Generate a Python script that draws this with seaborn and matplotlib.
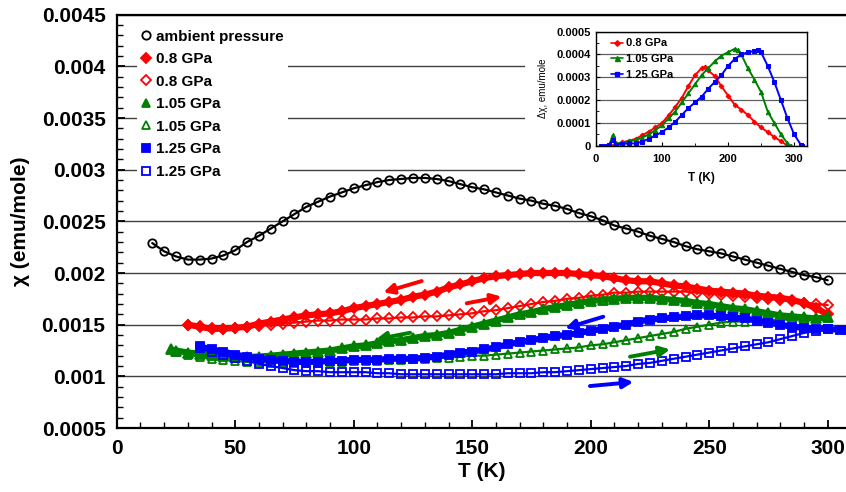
import numpy as np
import pandas as pd
import matplotlib
matplotlib.use("Agg")
import matplotlib.pyplot as plt
from matplotlib.lines import Line2D
from matplotlib.patches import Rectangle
from matplotlib.ticker import MultipleLocator, FuncFormatter
import seaborn as sns

# ---------------- data ----------------
T_amb = [15, 20, 25, 30, 35, 40, 45, 50, 55, 60, 65, 70, 75, 80, 85, 90, 95, 100, 105, 110,
         115, 120, 125, 130, 135, 140, 145, 150, 155, 160, 165, 170, 175, 180, 185, 190, 195,
         200, 205, 210, 215, 220, 225, 230, 235, 240, 245, 250, 255, 260, 265, 270, 275, 280,
         285, 290, 295, 300]
chi_amb = [0.00229, 0.00221, 0.00216, 0.00213, 0.00213, 0.00214, 0.00217, 0.00222, 0.00230,
           0.00236, 0.00243, 0.00250, 0.00257, 0.00264, 0.00269, 0.00274, 0.00278, 0.00282,
           0.00285, 0.00288, 0.00290, 0.00291, 0.00292, 0.00292, 0.00291, 0.00289, 0.00286,
           0.00283, 0.00281, 0.00278, 0.00275, 0.00272, 0.00270, 0.00267, 0.00265, 0.00262,
           0.00258, 0.00255, 0.00251, 0.00246, 0.00243, 0.00240, 0.00236, 0.00233, 0.00230,
           0.00226, 0.00223, 0.00221, 0.00219, 0.00216, 0.00213, 0.00210, 0.00207, 0.00204,
           0.00201, 0.00198, 0.00196, 0.00193]

T_08 = [30, 35, 40, 45, 50, 55, 60, 65, 70, 75, 80, 85, 90, 95, 100, 105, 110, 115, 120, 125,
        130, 135, 140, 145, 150, 155, 160, 165, 170, 175, 180, 185, 190, 195, 200, 205, 210,
        215, 220, 225, 230, 235, 240, 245, 250, 255, 260, 265, 270, 275, 280, 285, 290, 295, 300]
chi_08_cool = [0.00150, 0.00148, 0.00146, 0.00146, 0.00147, 0.00148, 0.00151, 0.00153, 0.00155,
               0.00157, 0.00159, 0.00160, 0.00161, 0.00163, 0.00166, 0.00168, 0.00170, 0.00172,
               0.00174, 0.00177, 0.00179, 0.00182, 0.00186, 0.00189, 0.00192, 0.00195, 0.00197,
               0.00198, 0.00199, 0.00200, 0.00200, 0.00200, 0.00200, 0.00199, 0.00198, 0.00197,
               0.00195, 0.00193, 0.00192, 0.00192, 0.00190, 0.00188, 0.00187, 0.00185, 0.00183,
               0.00182, 0.00181, 0.00180, 0.00178, 0.00177, 0.00176, 0.00174, 0.00171, 0.00166,
               0.00160]
chi_08_warm = [0.00150, 0.00149, 0.00147, 0.00146, 0.00147, 0.00148, 0.00149, 0.00150, 0.00151,
               0.00152, 0.00153, 0.00154, 0.00154, 0.00155, 0.00155, 0.00155, 0.00156, 0.00156,
               0.00157, 0.00157, 0.00158, 0.00158, 0.00159, 0.00160, 0.00161, 0.00163, 0.00164,
               0.00166, 0.00168, 0.00170, 0.00172, 0.00173, 0.00175, 0.00176, 0.00178, 0.00179,
               0.00181, 0.00181, 0.00182, 0.00182, 0.00182, 0.00182, 0.00182, 0.00181, 0.00180,
               0.00179, 0.00178, 0.00177, 0.00176, 0.00175, 0.00174, 0.00173, 0.00171, 0.00170,
               0.00169]

T_105 = [23, 25, 30, 35, 40, 45, 50, 55, 60, 65, 70, 75, 80, 85, 90, 95, 100, 105, 110, 115,
         120, 125, 130, 135, 140, 145, 150, 155, 160, 165, 170, 175, 180, 185, 190, 195, 200,
         205, 210, 215, 220, 225, 230, 235, 240, 245, 250, 255, 260, 265, 270, 275, 280, 285,
         290, 295, 300]
chi_105_cool = [0.00126, 0.00125, 0.00123, 0.00122, 0.00121, 0.00120, 0.00119, 0.00119, 0.00119,
                0.00120, 0.00121, 0.00122, 0.00123, 0.00124, 0.00125, 0.00127, 0.00129, 0.00130,
                0.00132, 0.00134, 0.00135, 0.00137, 0.00139, 0.00140, 0.00142, 0.00145, 0.00148,
                0.00151, 0.00154, 0.00157, 0.00160, 0.00162, 0.00165, 0.00167, 0.00169, 0.00171,
                0.00173, 0.00174, 0.00175, 0.00176, 0.00176, 0.00176, 0.00175, 0.00174, 0.00173,
                0.00171, 0.00170, 0.00168, 0.00166, 0.00165, 0.00163, 0.00161, 0.00159, 0.00158,
                0.00157, 0.00156, 0.00157]
chi_105_warm = [0.00126, 0.00124, 0.00121, 0.00119, 0.00117, 0.00116, 0.00115, 0.00114, 0.00114,
                0.00113, 0.00113, 0.00113, 0.00113, 0.00113, 0.00114, 0.00114, 0.00115, 0.00115,
                0.00115, 0.00116, 0.00116, 0.00117, 0.00117, 0.00118, 0.00118, 0.00119, 0.00120,
                0.00120, 0.00121, 0.00122, 0.00123, 0.00124, 0.00125, 0.00126, 0.00127, 0.00128,
                0.00130, 0.00131, 0.00133, 0.00135, 0.00137, 0.00139, 0.00141, 0.00143, 0.00146,
                0.00148, 0.00150, 0.00152, 0.00153, 0.00153, 0.00154, 0.00154, 0.00155, 0.00155,
                0.00155, 0.00156, 0.00156]

T_125_cool = [35, 40, 45, 50, 55, 60, 65, 70, 75, 80, 85, 90, 95, 100, 105, 110, 115, 120, 125,
              130, 135, 140, 145, 150, 155, 160, 165, 170, 175, 180, 185, 190, 195, 200, 205,
              210, 215, 220, 225, 230, 235, 240, 245, 250, 255, 260, 265, 270, 275, 280, 285,
              290, 295, 300, 305, 308]
chi_125_cool = [0.00129, 0.00126, 0.00124, 0.00121, 0.00119, 0.00117, 0.00116, 0.00115, 0.00114,
                0.00114, 0.00114, 0.00115, 0.00115, 0.00116, 0.00116, 0.00116, 0.00117, 0.00117,
                0.00117, 0.00118, 0.00119, 0.00121, 0.00123, 0.00124, 0.00126, 0.00128, 0.00131,
                0.00133, 0.00135, 0.00137, 0.00139, 0.00140, 0.00142, 0.00144, 0.00146, 0.00148,
                0.00150, 0.00153, 0.00155, 0.00156, 0.00157, 0.00158, 0.00159, 0.00159, 0.00158,
                0.00157, 0.00156, 0.00154, 0.00152, 0.00150, 0.00148, 0.00147, 0.00146, 0.00146,
                0.00145, 0.00145]
T_125_warm = [35, 40, 45, 50, 55, 60, 65, 70, 75, 80, 85, 90, 95, 100, 105, 110, 115, 120, 125,
              130, 135, 140, 145, 150, 155, 160, 165, 170, 175, 180, 185, 190, 195, 200, 205,
              210, 215, 220, 225, 230, 235, 240, 245, 250, 255, 260, 265, 270, 275, 280, 285,
              290, 295, 300]
chi_125_warm = [0.00127, 0.00124, 0.00121, 0.00118, 0.00115, 0.00112, 0.00110, 0.00108, 0.00106,
                0.00105, 0.00105, 0.00104, 0.00104, 0.00104, 0.00104, 0.00103, 0.00103, 0.00102,
                0.00102, 0.00102, 0.00102, 0.00102, 0.00102, 0.00102, 0.00102, 0.00102, 0.00103,
                0.00103, 0.00103, 0.00104, 0.00104, 0.00105, 0.00106, 0.00107, 0.00108, 0.00109,
                0.00110, 0.00112, 0.00113, 0.00115, 0.00117, 0.00119, 0.00121, 0.00123, 0.00125,
                0.00127, 0.00129, 0.00131, 0.00133, 0.00136, 0.00139, 0.00142, 0.00144, 0.00146]

# inset: difference curves
T_in_08 = [25, 30, 40, 50, 60, 70, 80, 90, 100, 110, 120, 130, 140, 150, 160, 165, 170, 180,
           190, 200, 210, 220, 230, 240, 250, 260, 270, 280, 290]
d_08 = [0.0, 0.000005, 0.000015, 0.000022, 0.00003, 0.000045, 0.000062, 0.00008, 0.0001,
        0.000133, 0.00017, 0.00021, 0.000262, 0.00031, 0.00034, 0.000345, 0.00033, 0.000305,
        0.00026, 0.00022, 0.00018, 0.000158, 0.000135, 0.000105, 0.00008, 0.00006, 0.000038,
        0.00002, 0.0]
T_in_105 = [20, 25, 30, 40, 50, 60, 70, 80, 90, 100, 110, 120, 130, 140, 150, 160, 170, 180,
            190, 200, 210, 215, 220, 230, 240, 250, 260, 270, 280, 290, 295]
d_105 = [0.0, 0.000045, 0.00001, 0.000012, 0.00002, 0.000024, 0.000035, 0.00005, 0.000068,
         0.00009, 0.00012, 0.00015, 0.00019, 0.00023, 0.00027, 0.00031, 0.00034, 0.00037,
         0.000395, 0.00041, 0.000425, 0.00042, 0.0004, 0.00034, 0.00029, 0.000235, 0.00015,
         0.0001, 0.00005, 0.00001, 0.0]
T_in_125 = [8, 15, 20, 25, 30, 40, 50, 60, 70, 80, 90, 100, 110, 120, 130, 140, 150, 160, 170,
            180, 190, 200, 210, 220, 230, 240, 245, 250, 260, 270, 280, 290, 300, 310, 312]
d_125 = [0.0, 0.0, 0.000005, 0.000025, 0.000005, 0.000008, 0.00001, 0.00001, 0.000018, 0.00003,
         0.000045, 0.00006, 0.00008, 0.000105, 0.000135, 0.000165, 0.00019, 0.000215, 0.00025,
         0.00028, 0.00031, 0.00035, 0.00038, 0.0004, 0.00041, 0.000415, 0.00042, 0.00041,
         0.00035, 0.00028, 0.0002, 0.00012, 0.00005, 0.000005, 0.0]

labels = ["ambient pressure", "0.8 GPa", "0.8 GPa", "1.05 GPa", "1.05 GPa", "1.25 GPa", "1.25 GPa"]
inset_labels = ["0.8 GPa", "1.05 GPa", "1.25 GPa"]

RED, GREEN, BLUE, BLACK = "#ff0000", "#008000", "#0000ff", "#000000"

# ---------------- style ----------------
sns.set_theme(style="white")
plt.rcParams["font.family"] = ["Liberation Sans", "DejaVu Sans"]
plt.rcParams["font.weight"] = "bold"
plt.rcParams["axes.labelweight"] = "bold"
for key in ["text.color", "axes.labelcolor", "xtick.color", "ytick.color", "axes.edgecolor"]:
    plt.rcParams[key] = "black"

fig = plt.figure(figsize=(8.46, 4.92), dpi=100)
W, H = 846, 492
ax = fig.add_axes([116.7 / W, (H - 428) / H, (W - 116.7) / W, (428 - 14.7) / H])

# series: (T, chi, color, marker, filled, ms)
series = [
    (T_amb, chi_amb, BLACK, "o", False, 6.0),
    (T_08, chi_08_cool, RED, "D", True, 5.4),
    (T_08, chi_08_warm, RED, "D", False, 5.4),
    (T_105, chi_105_cool, GREEN, "^", True, 6.6),
    (T_105, chi_105_warm, GREEN, "^", False, 6.0),
    (T_125_cool, chi_125_cool, BLUE, "s", True, 5.6),
    (T_125_warm, chi_125_warm, BLUE, "s", False, 5.2),
]
handles = []
for i, (T, chi, c, m, filled, ms) in enumerate(series):
    df = pd.DataFrame({"T": T, "chi": chi})
    sns.lineplot(data=df, x="T", y="chi", ax=ax, color=c, marker=m, markersize=ms,
                 markerfacecolor=c if filled else "none",
                 markeredgecolor=c, markeredgewidth=1.3,
                 linewidth=4.5 if filled else 1.6, estimator=None, sort=False,
                 legend=False, zorder=3 + i)
    handles.append(Line2D([], [], linestyle="none", marker=m, markersize=6 if m != "D" else 5,
                          markerfacecolor=c if filled else "none", markeredgecolor=c,
                          markeredgewidth=1.3))

ax.set_xlim(0, (W - 116.7) / 2.37)
ax.set_ylim(0.0005, 0.0045)
ax.xaxis.set_major_locator(MultipleLocator(50))
ax.xaxis.set_minor_locator(MultipleLocator(10))
ax.yaxis.set_major_locator(MultipleLocator(0.0005))
ax.yaxis.set_minor_locator(MultipleLocator(0.0001))
ax.yaxis.set_major_formatter(FuncFormatter(lambda v, p: f"{v:g}"))
ax.tick_params(axis="both", which="major", direction="in", length=6, width=1.3,
               labelsize=15, pad=8, left=True, bottom=True, colors="black")
ax.tick_params(axis="both", which="minor", direction="in", length=4, width=1.0,
               left=True, bottom=True, colors="black")
for lab in ax.get_xticklabels() + ax.get_yticklabels():
    lab.set_fontweight("bold")
ax.grid(axis="y", which="major", color="#404040", linewidth=1.0, zorder=0)
ax.set_axisbelow(True)
for s in ["left", "bottom", "top"]:
    ax.spines[s].set_color("black")
    ax.spines[s].set_linewidth(1.6)
ax.spines["right"].set_visible(False)

ax.set_xlabel("T (K)", fontsize=15, fontweight="bold", labelpad=3)
ax.set_ylabel("χ (emu/mole)", fontsize=15, fontweight="bold", labelpad=8)

# direction arrows
arrows = [
    ((128.7, 0.001922), (112.5, 0.001813), RED),
    ((147.7, 0.001707), (162.4, 0.001771), RED),
    ((123.8, 0.001422), (109.4, 0.001358), GREEN),
    ((216.6, 0.001190), (233.5, 0.001261), GREEN),
    ((205.3, 0.001577), (189.2, 0.001465), BLUE),
    ((199.7, 0.000906), (218.0, 0.000945), BLUE),
]
for tail, head, c in arrows:
    ax.annotate("", xy=head, xytext=tail,
                arrowprops=dict(arrowstyle="-|>", color=c, lw=2.8, mutation_scale=15,
                                shrinkA=0, shrinkB=0), zorder=20)

leg = ax.legend(handles, labels, loc="upper left", bbox_to_anchor=(0.028, 0.975),
                frameon=True, facecolor="white", edgecolor="none", framealpha=1,
                prop={"family": "Liberation Sans", "weight": "bold", "size": 11},
                handlelength=0.5, handletextpad=0.45, labelspacing=0.56,
                borderpad=0.3, borderaxespad=0.0)
leg.set_zorder(15)

# white patch behind inset
ax.add_patch(Rectangle((525 / W, (H - 188) / H), 303 / W, 170 / H, transform=fig.transFigure,
                       facecolor="white", edgecolor="none", zorder=14))

# ---------------- inset ----------------
axi = fig.add_axes([596 / W, (H - 145.7) / H, (807.3 - 596) / W, (145.7 - 31.7) / H])
inset = [(T_in_08, d_08, RED, "D", 2.4), (T_in_105, d_105, GREEN, "^", 3.2),
         (T_in_125, d_125, BLUE, "s", 2.8)]
ihandles = []
for T, d, c, m, ms in inset:
    df = pd.DataFrame({"T": T, "d": d})
    sns.lineplot(data=df, x="T", y="d", ax=axi, color=c, marker=m, markersize=ms,
                 markeredgecolor=c, markerfacecolor=c, linewidth=1.4, estimator=None,
                 sort=False, legend=False)
    ihandles.append(Line2D([], [], color=c, marker=m, markersize=ms + 0.4, linewidth=1.2,
                           markerfacecolor=c, markeredgecolor=c))
axi.set_xlim(0, 320)
axi.set_ylim(0, 0.0005)
axi.xaxis.set_major_locator(MultipleLocator(100))
axi.xaxis.set_minor_locator(MultipleLocator(50))
axi.yaxis.set_major_locator(MultipleLocator(0.0001))
axi.yaxis.set_minor_locator(MultipleLocator(0.00005))
axi.yaxis.set_major_formatter(FuncFormatter(lambda v, p: f"{v:g}"))
axi.tick_params(axis="y", which="major", direction="in", length=3, width=0.8,
                labelsize=8, pad=4, left=True, colors="black")
axi.tick_params(axis="x", which="major", direction="in", length=3, width=0.8,
                labelsize=8, pad=6, bottom=True, colors="black")
axi.tick_params(axis="both", which="minor", direction="in", length=2, width=0.6,
                left=True, bottom=True, colors="black")
for lab in axi.get_xticklabels() + axi.get_yticklabels():
    lab.set_fontweight("bold")
axi.grid(axis="y", which="major", color="#606060", linewidth=0.9)
axi.set_axisbelow(True)
for s in axi.spines.values():
    s.set_color("black")
    s.set_linewidth(1.0)
axi.set_xlabel("T (K)", fontsize=8.5, fontweight="bold", labelpad=6)
axi.set_ylabel("Δχ, emu/mole", fontsize=7, fontweight="normal", labelpad=6)
axi.legend(ihandles, inset_labels, loc="upper left", bbox_to_anchor=(0.06, 0.96),
           frameon=False, prop={"family": "Liberation Sans", "weight": "bold", "size": 8},
           handlelength=1.1, handletextpad=0.3, labelspacing=0.5, borderpad=0.2,
           borderaxespad=0.0)

fig.savefig("out.png", dpi=100)
